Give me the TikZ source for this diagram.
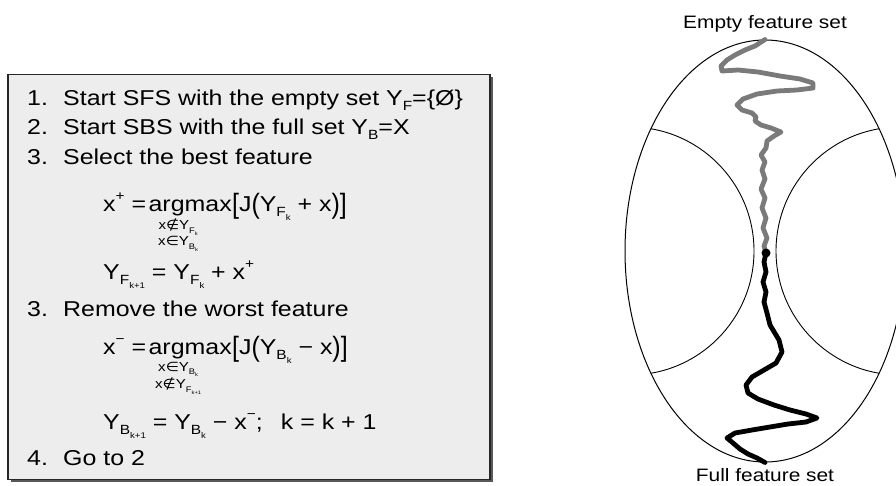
\documentclass[tikz,border=0pt]{standalone}
\usepackage{fontspec}
\setmainfont{Liberation Sans}[FakeStretch=1.16]
\newfontfamily\symfont{DejaVu Sans}[FakeStretch=1.16]
\usepackage{graphicx}
\usetikzlibrary{positioning, shapes.geometric, shadows}

\newcommand\lo[1]{\raisebox{-0.26em}{\scalebox{0.62}{#1}}}
\newcommand\up[1]{\raisebox{0.5em}{\scalebox{0.62}{#1}}}
\newcommand\brk[1]{\raisebox{-0.12em}{\scalebox{1}[1.3]{#1}}}
\newcommand\elin{{\symfont ∈}}
\newcommand\elout{{\symfont ∉}}

\tikzset{
  txt/.style={inner sep=0pt, anchor=base west, font=\fontsize{21.5}{24}\selectfont},
  lim/.style={inner sep=0pt, font=\fontsize{13}{14}\selectfont},
  lbl/.style={inner sep=0pt, font=\fontsize{18}{20}\selectfont},
  panel/.style={draw=black!85, line width=1.1pt, fill=black!7, minimum width=482pt, minimum height=405pt, inner sep=0pt,
    drop shadow={shadow xshift=2.5pt, shadow yshift=-2.5pt, fill=black!65, opacity=1}},
  walk/.style={line width=4.8pt, line join=round, line cap=round},
}

\begin{document}
\begin{tikzpicture}[x=1pt, y=-1pt]
    \useasboundingbox (0,0) rectangle (896,485);
    \clip (0,0) rectangle (896,485);

    \node[panel] (algo) at (249,277) {};

    \node[txt] (s1) at (27,105) {\makebox[36pt][l]{1.}Start SFS with the empty set Y\lo{F}=\{Ø\}};
    \node[txt] (s2) at (27,134) {\makebox[36pt][l]{2.}Start SBS with the full set Y\lo{B}=X};
    \node[txt] (s3) at (27,164) {\makebox[36pt][l]{3.}Select the best feature};

    \node[txt] (xplus) at (103,211) {x\up{+} =};
    \node[txt, right=2pt of xplus.base east, anchor=base west] (amax1) {argmax};
    \node[txt, right=0pt of amax1.base east, anchor=base west] (jay1) {\brk{[}J\brk{(}Y\lo{F\lo{k}} + x\brk{)}\brk{]}};
    \node[lim, below=3pt of amax1, xshift=-12pt] (c1) {x\elout Y\lo{F\lo{k}}};
    \node[lim, below=1pt of c1] (c2) {x\elin Y\lo{B\lo{k}}};
    \node[txt] (yf) at (103,279) {Y\lo{F\lo{k+1}} = Y\lo{F\lo{k}} + x\up{+}};

    \node[txt] (s4) at (27,316) {\makebox[36pt][l]{3.}Remove the worst feature};

    \node[txt] (xminus) at (103,354) {x\up{−} =};
    \node[txt, right=2pt of xminus.base east, anchor=base west] (amax2) {argmax};
    \node[txt, right=0pt of amax2.base east, anchor=base west] (jay2) {\brk{[}J\brk{(}Y\lo{B\lo{k}} − x\brk{)}\brk{]}};
    \node[lim, below=3pt of amax2, xshift=-12pt] (c3) {x\elin Y\lo{B\lo{k}}};
    \node[lim, below=1pt of c3] (c4) {x\elout Y\lo{F\lo{k+1}}};
    \node[txt] (yb) at (103,429) {Y\lo{B\lo{k+1}} = Y\lo{B\lo{k}} − x\up{−};\hspace{18pt}k = k + 1};

    \node[txt] (s5) at (27,465) {\makebox[36pt][l]{4.}Go to 2};

    \node[draw, ellipse, line width=1pt, minimum width=280pt, minimum height=422pt, inner sep=0pt] (space) at (765,251) {};
    \begin{scope}
        \clip (765,251) ellipse [x radius=140, y radius=211];
        \draw[line width=0.9pt] (630,251) circle [radius=124];
        \draw[line width=0.9pt] (900,251) circle [radius=124];
    \end{scope}

    \node[lbl, above=7pt of space.north] (empty) {Empty feature set};
    \node[lbl, below=6pt of space.south] (full) {Full feature set};

    \coordinate (meet) at (766,253);
    \draw[walk, black!52] (space.north) -- (755,46) -- (745,50) -- (735,55) -- (727,60) -- (721,66) -- (722,71)
        -- (738,70) -- (758,72) -- (780,76) -- (800,79) -- (813,83) -- (813,88) -- (797,90) -- (777,91)
        -- (757,94) -- (743,99) -- (737,105) -- (742,110) -- (752,113) -- (756,117) -- (755,121) -- (761,125)
        -- (771,128) -- (781,132) -- (774,136) -- (767,141) -- (766,148) -- (761,155) -- (765,162)
        -- (762,170) -- (765,179) -- (761,189) -- (765,198) -- (762,208) -- (766,218) -- (763,228)
        -- (767,238) -- (764,246) -- (meet);
    \draw[walk] (meet) -- (764,262) -- (766,272) -- (763,282) -- (766,292) -- (764,302) -- (767,313)
        -- (770,325) -- (779,340) -- (782,352) -- (776,363) -- (764,370) -- (752,377) -- (746,385)
        -- (748,393) -- (758,399) -- (774,405) -- (790,410) -- (806,414) -- (817,418) -- (806,422)
        -- (788,424) -- (770,427) -- (752,430) -- (735,433) -- (727,438) -- (733,443) -- (740,449)
        -- (748,454) -- (757,458) -- (space.south);
    \fill (meet) circle [radius=4.5];
\end{tikzpicture}
\end{document}
